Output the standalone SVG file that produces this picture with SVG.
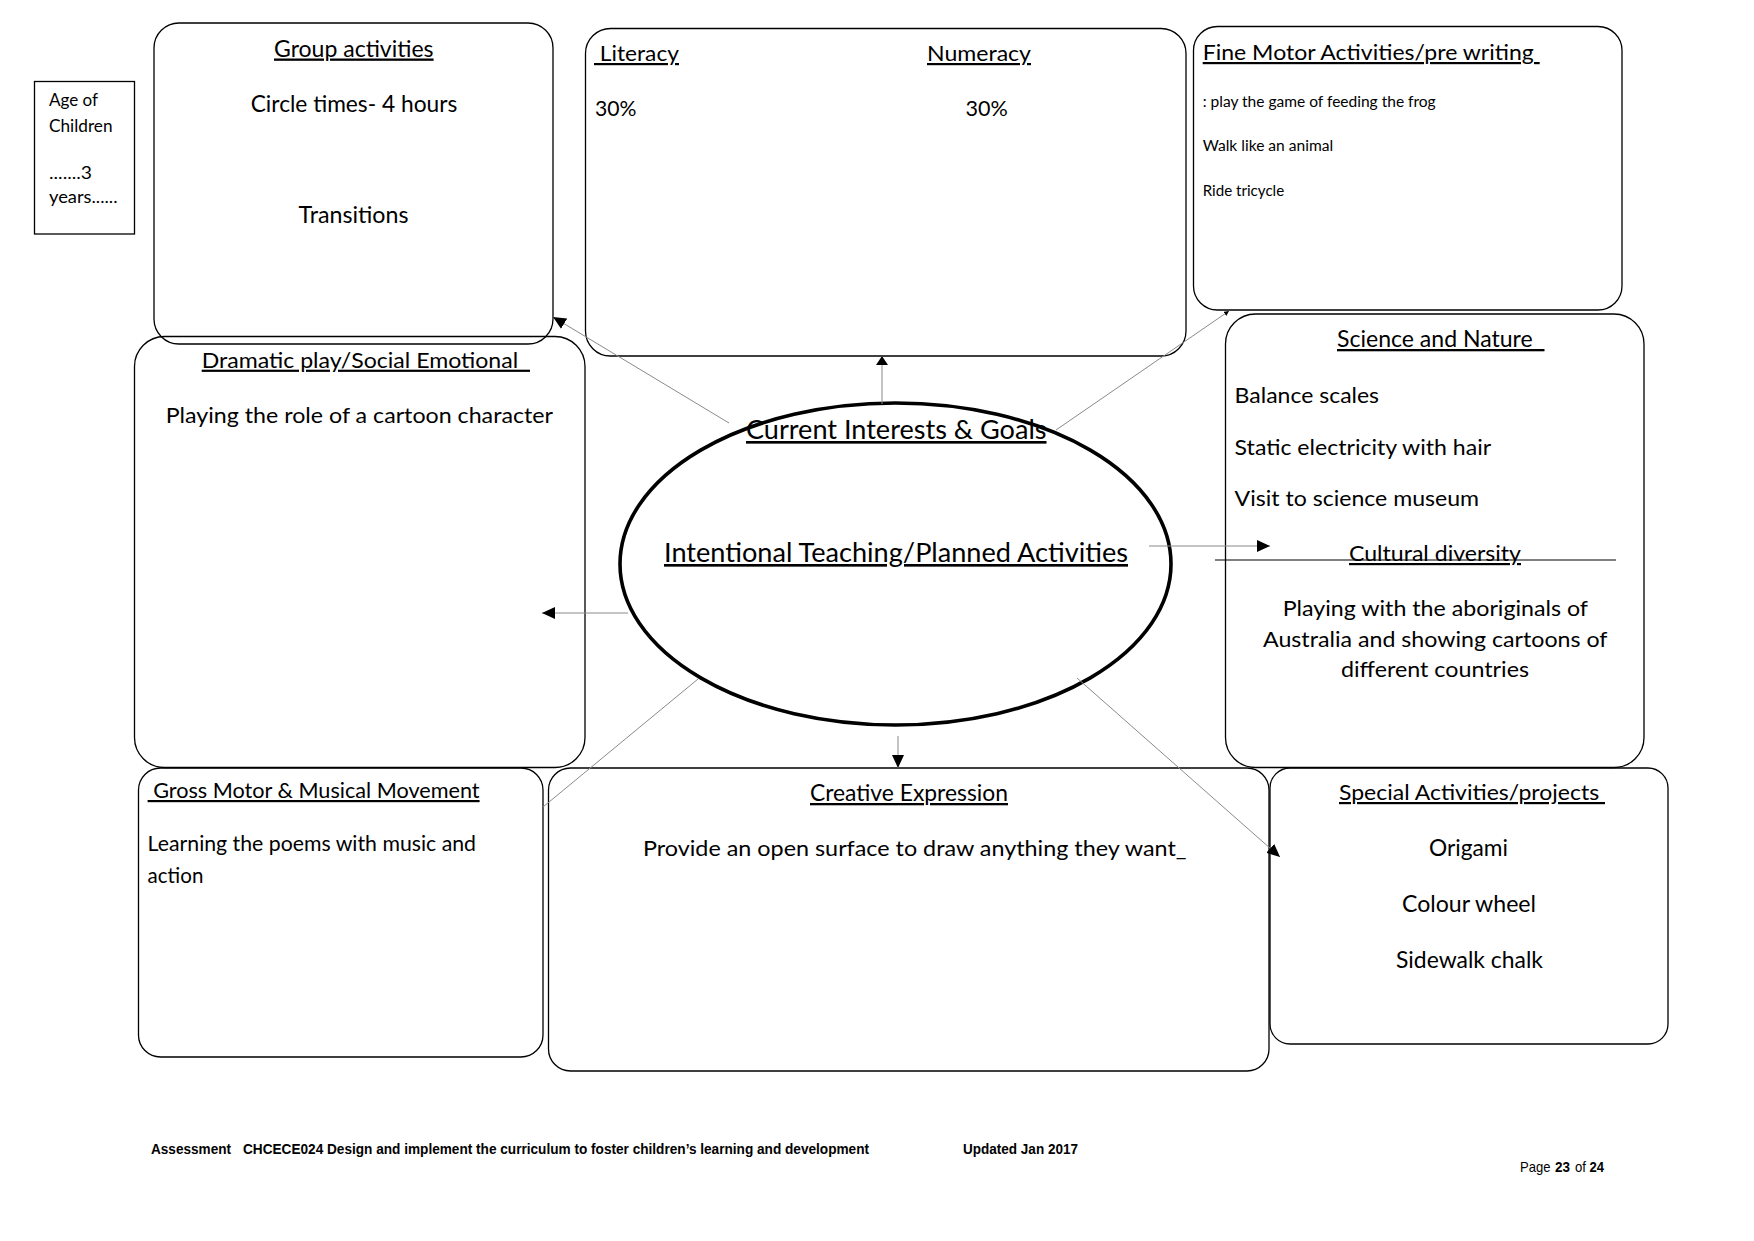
<svg xmlns="http://www.w3.org/2000/svg" width="1754" height="1241" viewBox="0 0 1754 1241">
<style>
.bg{fill:#fff}
.box{fill:none;stroke:#000;stroke-width:1.3}
.t{font-family:Lato,"Open Sans","Liberation Sans",sans-serif;fill:#000}
.u{text-decoration:underline}
.s22{font-size:23px}
.s21{font-size:22px}
.s25{font-size:26.5px}
.s16{font-size:17px}
.s15{font-size:15.5px}
.conn{stroke:#8a8a8a;stroke-width:1;fill:none}
.foot{font-family:"Liberation Sans Narrow","Liberation Sans",Arial,sans-serif;font-size:15px;fill:#000}
</style>
<defs>
<marker id="arr" markerUnits="userSpaceOnUse" markerWidth="13" markerHeight="12" refX="13" refY="6" orient="auto"><path d="M0,0 L13,6 L0,12 z" fill="#000"/></marker>
<marker id="arrFlat" markerUnits="userSpaceOnUse" markerWidth="9" markerHeight="12" refX="9" refY="6" orient="auto"><path d="M0,0 L9,6 L0,12 z" fill="#000"/></marker>
<marker id="arrTiny" markerUnits="userSpaceOnUse" markerWidth="5" markerHeight="5" refX="5" refY="2.5" orient="auto"><path d="M0,0 L5,2.5 L0,5 z" fill="#000"/></marker>
</defs>
<rect class="bg" x="0" y="0" width="1754" height="1241"/>

<g id="age">
<rect class="box" x="34.5" y="81.5" width="100" height="152.5"/>
<text class="t s16" x="49" y="106" textLength="49" lengthAdjust="spacingAndGlyphs">Age of</text>
<text class="t s16" x="49" y="132" textLength="63.5" lengthAdjust="spacingAndGlyphs">Children</text>
<text class="t s16" x="49" y="179" textLength="43" lengthAdjust="spacingAndGlyphs">.......3</text>
<text class="t s16" x="49" y="203" textLength="68.5" lengthAdjust="spacingAndGlyphs">years......</text>
</g>

<g id="group-activities">
<rect class="box" x="154" y="23" width="399" height="321" rx="25"/>
<text class="t s22 u" x="274" y="56.5" textLength="159.6" lengthAdjust="spacingAndGlyphs">Group activities</text>
<text class="t s22" x="250.7" y="111.7" textLength="206.6" lengthAdjust="spacingAndGlyphs">Circle times- 4 hours</text>
<text class="t s22" x="298.5" y="222.7" textLength="110" lengthAdjust="spacingAndGlyphs">Transitions</text>
</g>

<g id="literacy-numeracy">
<rect class="box" x="585.5" y="28.5" width="600.5" height="327.5" rx="25"/>
<text class="t s21 u" x="594" y="61" textLength="85" lengthAdjust="spacingAndGlyphs" xml:space="preserve"> Literacy</text>
<text class="t s21 u" x="927" y="61" textLength="104" lengthAdjust="spacingAndGlyphs">Numeracy</text>
<text class="t s21" x="595" y="116" textLength="41.5" lengthAdjust="spacingAndGlyphs">30%</text>
<text class="t s21" x="965.5" y="116" textLength="42.3" lengthAdjust="spacingAndGlyphs">30%</text>
</g>

<g id="fine-motor">
<rect class="box" x="1193.5" y="26.5" width="428.5" height="283.5" rx="24"/>
<text class="t s21 u" x="1202.7" y="60" textLength="337" lengthAdjust="spacingAndGlyphs" xml:space="preserve">Fine Motor Activities/pre writing </text>
<text class="t s15" x="1202.7" y="107" textLength="233" lengthAdjust="spacingAndGlyphs">: play the game of feeding the frog</text>
<text class="t s15" x="1202.7" y="151" textLength="130.5" lengthAdjust="spacingAndGlyphs">Walk like an animal</text>
<text class="t s15" x="1202.7" y="196" textLength="81.5" lengthAdjust="spacingAndGlyphs">Ride tricycle</text>
</g>

<g id="science-nature">
<rect class="box" x="1225.5" y="314" width="418.5" height="453.5" rx="30"/>
<text class="t s22 u" x="1337" y="347" textLength="207.5" lengthAdjust="spacingAndGlyphs" xml:space="preserve">Science and Nature  </text>
<text class="t s21" x="1234.6" y="403" textLength="144.5" lengthAdjust="spacingAndGlyphs">Balance scales</text>
<text class="t s21" x="1234.6" y="455" textLength="256.5" lengthAdjust="spacingAndGlyphs">Static electricity with hair</text>
<text class="t s21" x="1234.6" y="506" textLength="244.5" lengthAdjust="spacingAndGlyphs">Visit to science museum</text>
<line x1="1215" y1="560" x2="1616" y2="560" stroke="#000" stroke-width="1.2"/>
<text class="t s21 u" x="1349" y="561" textLength="172" lengthAdjust="spacingAndGlyphs">Cultural diversity</text>
<text class="t s21" x="1282.7" y="616" textLength="305.3" lengthAdjust="spacingAndGlyphs">Playing with the aboriginals of</text>
<text class="t s21" x="1263" y="647" textLength="344.5" lengthAdjust="spacingAndGlyphs">Australia and showing cartoons of</text>
<text class="t s21" x="1341" y="677" textLength="188" lengthAdjust="spacingAndGlyphs">different countries</text>
</g>

<g id="dramatic-play">
<rect class="box" x="134.5" y="336.5" width="450.5" height="431" rx="30"/>
<text class="t s21 u" x="201.7" y="367.7" textLength="328.3" lengthAdjust="spacingAndGlyphs" xml:space="preserve">Dramatic play/Social Emotional  </text>
<text class="t s21" x="165.7" y="423" textLength="387.3" lengthAdjust="spacingAndGlyphs">Playing the role of a cartoon character</text>
</g>

<g id="centre">
<ellipse cx="895.5" cy="564" rx="275.5" ry="161" fill="none" stroke="#000" stroke-width="3.6"/>
<text class="t s25 u" x="746" y="439" textLength="300.5" lengthAdjust="spacingAndGlyphs">Current Interests &amp; Goals</text>
<text class="t s25 u" x="664" y="562" textLength="464" lengthAdjust="spacingAndGlyphs">Intentional Teaching/Planned Activities</text>
</g>

<g id="gross-motor">
<rect class="box" x="138.5" y="768" width="404.5" height="289" rx="22"/>
<text class="t s21 u" x="147.6" y="798" textLength="332" lengthAdjust="spacingAndGlyphs" xml:space="preserve"> Gross Motor &amp; Musical Movement</text>
<text class="t s21" x="147.6" y="851" textLength="328.4" lengthAdjust="spacingAndGlyphs">Learning the poems with music and</text>
<text class="t s21" x="147.6" y="883" textLength="55.8" lengthAdjust="spacingAndGlyphs">action</text>
</g>

<g id="creative-expression">
<rect class="box" x="548.5" y="768" width="720.5" height="303" rx="22"/>
<text class="t s22 u" x="810" y="801" textLength="198" lengthAdjust="spacingAndGlyphs">Creative Expression</text>
<text class="t s21" x="643" y="856" textLength="543.5" lengthAdjust="spacingAndGlyphs">Provide an open surface to draw anything they want_</text>
</g>

<g id="special-activities">
<rect class="box" x="1270" y="768" width="398" height="276" rx="20"/>
<text class="t s21 u" x="1339" y="800" textLength="266" lengthAdjust="spacingAndGlyphs" xml:space="preserve">Special Activities/projects </text>
<text class="t s22" x="1429" y="856" textLength="79" lengthAdjust="spacingAndGlyphs">Origami</text>
<text class="t s22" x="1402" y="912" textLength="134" lengthAdjust="spacingAndGlyphs">Colour wheel</text>
<text class="t s22" x="1396" y="968" textLength="147" lengthAdjust="spacingAndGlyphs">Sidewalk chalk</text>
</g>

<g id="connectors">
<line class="conn" x1="882" y1="404" x2="882" y2="356" marker-end="url(#arrFlat)"/>
<line class="conn" x1="729" y1="423" x2="553" y2="317" marker-end="url(#arr)"/>
<line class="conn" x1="1056" y1="430" x2="1229" y2="311" marker-end="url(#arrTiny)"/>
<line class="conn" x1="1149" y1="546" x2="1270" y2="546" marker-end="url(#arr)"/>
<line class="conn" x1="628" y1="613" x2="542" y2="613" marker-end="url(#arr)"/>
<line class="conn" x1="898" y1="736" x2="898" y2="768" marker-end="url(#arr)"/>
<line class="conn" x1="698" y1="679" x2="543" y2="807"/>
<line class="conn" x1="1077" y1="678" x2="1280" y2="857" marker-end="url(#arr)"/>
</g>

<g id="footer">
<text class="foot" x="151" y="1154" font-weight="bold" textLength="80" lengthAdjust="spacingAndGlyphs">Assessment</text>
<text class="foot" x="243" y="1154" font-weight="bold" textLength="626" lengthAdjust="spacingAndGlyphs">CHCECE024 Design and implement the curriculum to foster children’s learning and development</text>
<text class="foot" x="963" y="1154" font-weight="bold" textLength="115" lengthAdjust="spacingAndGlyphs">Updated Jan 2017</text>
<text class="foot" x="1520" y="1172" textLength="30.5" lengthAdjust="spacingAndGlyphs">Page</text>
<text class="foot" x="1555" y="1172" font-weight="bold" textLength="15" lengthAdjust="spacingAndGlyphs">23</text>
<text class="foot" x="1575" y="1172" textLength="11" lengthAdjust="spacingAndGlyphs">of</text>
<text class="foot" x="1589.5" y="1172" font-weight="bold" textLength="14.5" lengthAdjust="spacingAndGlyphs">24</text>
</g>
</svg>
